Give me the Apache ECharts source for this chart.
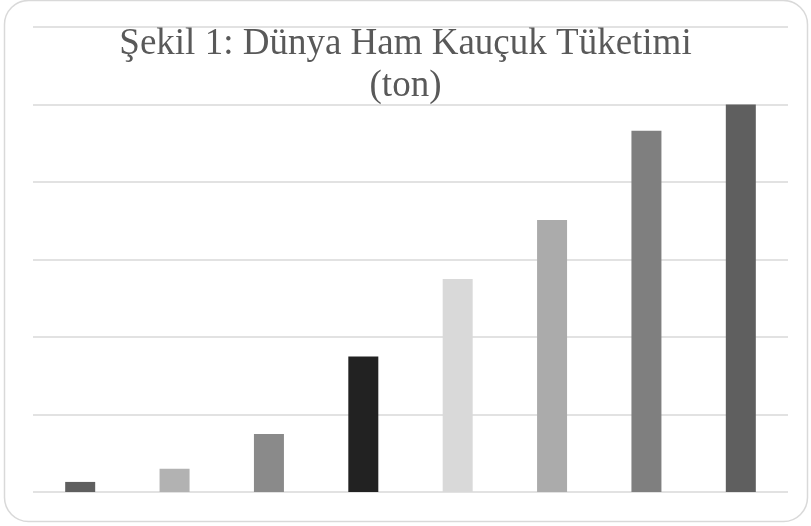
<!DOCTYPE html>
<html>
<head>
<meta charset="utf-8">
<script src="https://cdn.jsdelivr.net/npm/echarts@6/dist/echarts.min.js"></script>
<style>html,body{margin:0;padding:0;background:#fff;}#c{width:811px;height:526px;}</style>
</head>
<body>
<div id="c"></div>
<script>
const titleText = "Şekil 1: Dünya Ham Kauçuk Tüketimi\n(ton)";
const categories = ["1", "2", "3", "4", "5", "6", "7", "8"];
const values = [0.13, 0.30, 0.75, 1.75, 2.75, 3.51, 4.66, 5.0];
const barColors = ["#5f5f5f", "#b2b2b2", "#8a8a8a", "#222222", "#d9d9d9", "#ababab", "#7f7f7f", "#5f5f5f"];
const yMax = 6;
const yInterval = 1;

const chart = echarts.init(document.getElementById('c'), null, {renderer: 'canvas'});
chart.setOption({
  animation: false,
  backgroundColor: '#ffffff',
  title: {
    text: titleText,
    left: 'center',
    top: 18,
    textStyle: {
      fontFamily: 'Liberation Serif',
      fontSize: 37,
      fontWeight: 'normal',
      color: '#595959',
      lineHeight: 42
    }
  },
  graphic: [{
    type: 'rect',
    shape: {x: 4.5, y: 0.5, width: 803, height: 521, r: 24},
    style: {fill: 'none', stroke: '#d9d9d9', lineWidth: 1.5},
    silent: true,
    z: -1
  }],
  grid: {left: 33, right: 23, top: 27, bottom: 34, containLabel: false},
  xAxis: {
    type: 'category',
    data: categories,
    axisLine: {show: false},
    axisTick: {show: false},
    axisLabel: {show: false}
  },
  yAxis: {
    type: 'value',
    min: 0,
    max: yMax,
    interval: yInterval,
    axisLabel: {show: false},
    axisLine: {show: false},
    axisTick: {show: false},
    splitLine: {lineStyle: {color: '#d9d9d9', width: 1.5}}
  },
  series: [{
    type: 'bar',
    barWidth: 30,
    data: values.map((v, i) => ({value: v, itemStyle: {color: barColors[i]}}))
  }]
});
</script>
</body>
</html>
